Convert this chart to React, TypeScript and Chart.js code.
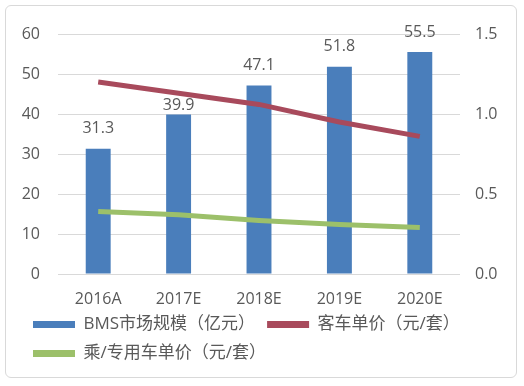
import React, { useEffect, useRef } from "react";
import { Chart, registerables } from "chart.js";

Chart.register(...registerables);

const categories = ["2016A", "2017E", "2018E", "2019E", "2020E"];
const bmsMarket = [31.3, 39.9, 47.1, 51.8, 55.5];
const busPrice = [1.2, 1.13, 1.06, 0.95, 0.86];
const carPrice = [0.39, 0.37, 0.335, 0.31, 0.29];
const leftTicks = [0, 10, 20, 30, 40, 50, 60];
const rightTicks = [0, 0.5, 1.0, 1.5];
const seriesNames = ["BMS市场规模（亿元）", "客车单价（元/套）", "乘/专用车单价（元/套）"];

const FONT = "'Open Sans', 'Noto Sans CJK SC', sans-serif";
const TEXT = "#595959";

const barLabels = {
  id: "barLabels",
  afterDatasetsDraw(chart: any) {
    const meta = chart.getDatasetMeta(0);
    const ctx = chart.ctx;
    ctx.save();
    ctx.font = `16px ${FONT}`;
    ctx.fillStyle = TEXT;
    ctx.textAlign = "center";
    ctx.textBaseline = "middle";
    meta.data.forEach((el: any, i: number) => {
      const off = i === 1 ? 9 : 20;
      ctx.fillText(bmsMarket[i].toFixed(1), el.x, el.y - off);
    });
    ctx.restore();
  },
};

export default function App() {
  const ref = useRef<HTMLCanvasElement>(null);
  useEffect(() => {
    const chart = new Chart(ref.current!, {
      type: "bar",
      data: {
        labels: categories,
        datasets: [
          {
            type: "bar",
            label: seriesNames[0],
            data: bmsMarket,
            backgroundColor: "#4a7ebb",
            borderWidth: 0,
            yAxisID: "y",
            barPercentage: 0.31,
            categoryPercentage: 1,
            order: 2,
          },
          {
            type: "line",
            label: seriesNames[1],
            data: busPrice,
            borderColor: "#a84a5c",
            backgroundColor: "#a84a5c",
            borderWidth: 5,
            pointRadius: 0,
            tension: 0,
            yAxisID: "y1",
            order: 1,
          },
          {
            type: "line",
            label: seriesNames[2],
            data: carPrice,
            borderColor: "#9cc06a",
            backgroundColor: "#9cc06a",
            borderWidth: 5,
            pointRadius: 0,
            tension: 0,
            yAxisID: "y1",
            order: 1,
          },
        ] as any,
      },
      options: {
        animation: false,
        responsive: false,
        devicePixelRatio: 1,
        layout: { padding: { left: 21, right: 14, top: 34, bottom: 14 } },
        plugins: {
          tooltip: { enabled: false },
          legend: {
            position: "bottom",
            align: "start",
            labels: {
              font: { family: FONT, size: 17 },
              color: TEXT,
              boxWidth: 42,
              boxHeight: 7,
              padding: 12,
              sort: (a: any, b: any) => a.datasetIndex - b.datasetIndex,
              generateLabels(chart: any) {
                const items = Chart.defaults.plugins.legend.labels.generateLabels(chart);
                return items.map((it: any) => ({ ...it, lineWidth: 0 }));
              },
            },
          },
        },
        scales: {
          x: {
            grid: { display: false, drawTicks: false },
            border: { display: false },
            ticks: { font: { family: FONT, size: 16 }, color: TEXT, padding: 16 },
            afterFit(scale: any) {
              scale.height = 30;
            },
          },
          y: {
            position: "left",
            min: 0,
            max: 60,
            afterBuildTicks(scale: any) {
              scale.ticks = leftTicks.map((v) => ({ value: v }));
            },
            grid: { color: "#d9d9d9", drawTicks: false, lineWidth: 1 },
            border: { display: false },
            ticks: { font: { family: FONT, size: 16 }, color: TEXT, padding: 18 },
            afterFit(scale: any) {
              scale.width = 37;
            },
          },
          y1: {
            position: "right",
            min: 0,
            max: 1.5,
            afterBuildTicks(scale: any) {
              scale.ticks = rightTicks.map((v) => ({ value: v }));
            },
            grid: { display: false, drawTicks: false },
            border: { display: false },
            ticks: {
              font: { family: FONT, size: 16 },
              color: TEXT,
              padding: 15,
              callback: (v: any) => Number(v).toFixed(1),
            },
            afterFit(scale: any) {
              scale.width = 50;
            },
          },
        },
      } as any,
      plugins: [barLabels],
    });
    return () => chart.destroy();
  }, []);

  return (
    <div
      style={{
        position: "fixed",
        left: 0,
        top: 0,
        width: 524,
        height: 386,
        background: "#fff",
      }}
    >
      <div
        style={{
          position: "absolute",
          left: 5,
          top: 5,
          width: 512,
          height: 373,
          border: "1px solid #d9d9d9",
          borderRadius: 6,
          boxSizing: "border-box",
        }}
      />
      <canvas
        ref={ref}
        width={524}
        height={386}
        style={{ position: "absolute", left: 0, top: 0, width: 524, height: 386 }}
      />
    </div>
  );
}
